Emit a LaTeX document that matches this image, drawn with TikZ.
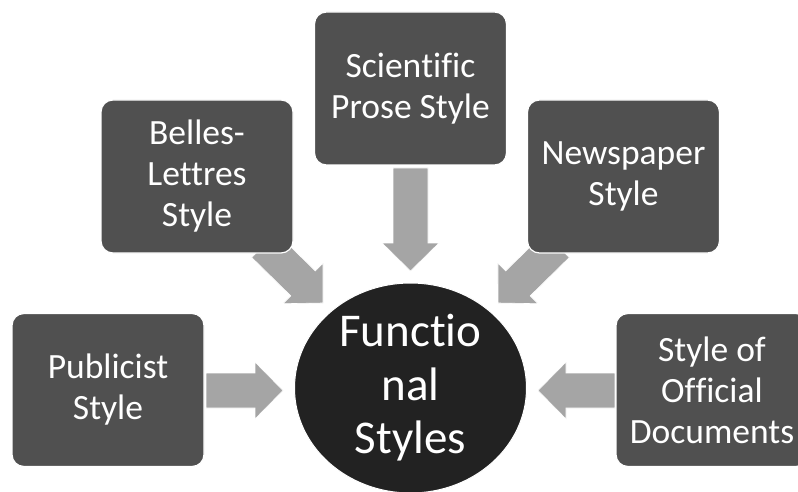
\documentclass[tikz,border=0pt]{standalone}
\usepackage{fontspec}
\setmainfont{Carlito}[RawFeature={-liga;-clig;-dlig}]
\usetikzlibrary{calc,shapes.geometric,backgrounds}
\definecolor{boxgray}{HTML}{505050}
\definecolor{circgray}{HTML}{222222}
\definecolor{arrgray}{HTML}{A5A5A5}
\newcommand{\nolg}{\kern0pt\relax}
\newcommand{\fatarrow}[3]{%
  \coordinate (#1h) at ($(#3)!28pt!(#2)$);
  \fill[arrowfill] ($(#2)!17.5pt!90:(#3)$) -- ($(#1h)!17.5pt!90:(#3)$) -- ($(#1h)!28.5pt!90:(#3)$) -- (#3) -- ($(#1h)!28.5pt!-90:(#3)$) -- ($(#1h)!17.5pt!-90:(#3)$) -- ($(#2)!17.5pt!-90:(#3)$) -- cycle;}
\tikzset{
  stylebox/.style={rectangle, rounded corners=12pt, fill=boxgray, draw=white, line width=1.2pt,
    minimum width=192pt, minimum height=153pt, inner sep=0pt, text=white, align=center,
    font=\fontsize{35.5}{41}\selectfont},
  hub/.style={ellipse, fill=circgray, draw=white, line width=1pt, minimum width=232pt, minimum height=210pt,
    inner sep=0pt, text=white, align=center, font=\fontsize{47}{53.5}\selectfont},
  arrowfill/.style={fill=arrgray, draw=white, line width=0.6pt}
}
\begin{document}
\begin{tikzpicture}[x=1pt,y=-1pt]
\clip (0,0) rectangle (798,492);
\fill[white] (0,0) rectangle (798,492);
% tails and tips
\coordinate (sciT) at (410.5,168);  \coordinate (sciP) at (410.5,271);
\coordinate (belT) at (264,245);    \coordinate (belP) at (323,303);
\coordinate (newT) at (557,245);    \coordinate (newP) at (498,303);
\coordinate (pubT) at (206,390.5);  \coordinate (pubP) at (283,390.5);
\coordinate (offT) at (615,390.5);  \coordinate (offP) at (538,390.5);
\fatarrow{sci}{sciT}{sciP}
\fatarrow{bel}{belT}{belP}
\fatarrow{new}{newT}{newP}
\fatarrow{pub}{pubT}{pubP}
\fatarrow{off}{offT}{offP}
\node[stylebox] (sci) at (410.5,88.5) {Scien\nolg tif\nolg ic\\Prose Style};
\node[stylebox] (bel) at (197,176.5) {Belles-\\Lettres\\Style};
\node[stylebox] (new) at (623.5,176.5) {Newspaper\\Style};
\node[stylebox] (pub) at (108,390) {Publicist\\Style};
\node[stylebox] (off) at (712,390) {Style of\\Of\nolg f\nolg icial\\Documents};
\node[hub] (fs) at (410.5,388) {Funct\nolg io\\nal\\Styles};
\end{tikzpicture}
\end{document}
